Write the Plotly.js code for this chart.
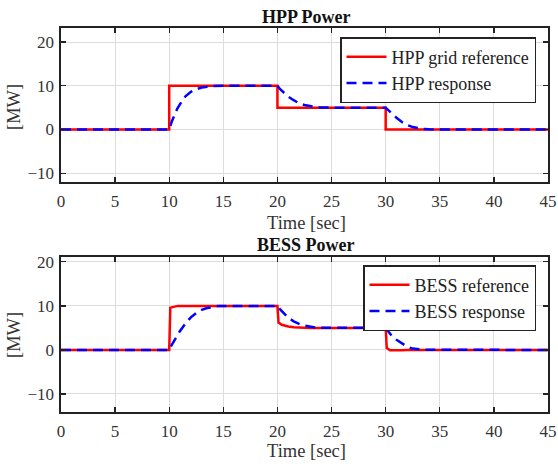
<!DOCTYPE html>
<html><head><meta charset="utf-8">
<script src="https://cdn.plot.ly/plotly-3.0.1.min.js"></script>
<style>html,body{margin:0;padding:0;background:#fff}#c{width:558px;height:464px}</style>
</head><body><div id="c"></div>
<script>
// HPP grid reference (step profile)
const hppRefT = [0, 10, 10, 20, 20, 30, 30, 45];
const hppRefP = [0, 0, 10, 10, 5, 5, 0, 0];
// HPP response
const hppRespT = [0, 10, 10.25, 10.5, 10.75, 11, 11.25, 11.5, 12, 12.5, 13, 13.5, 14, 15, 20, 20.25, 20.5, 21, 21.5, 22, 22.5, 23, 23.5, 24, 25, 30, 30.25, 30.5, 31, 31.5, 32, 32.5, 33, 33.5, 34, 45];
const hppRespP = [0, 0, 1.9, 3.5, 4.8, 5.8, 6.8, 7.6, 8.6, 9.2, 9.6, 9.8, 9.95, 10, 10, 9.2, 8.6, 7.5, 6.7, 6.0, 5.6, 5.3, 5.15, 5.05, 5, 5, 4.4, 3.7, 2.7, 1.7, 1.0, 0.55, 0.25, 0.1, 0.03, 0];
// BESS reference
const bessRefT = [0, 10, 10.1, 10.4, 10.8, 20, 20.1, 20.4, 21, 21.5, 22, 23, 30, 30.1, 30.4, 31, 31.5, 32, 45];
const bessRefP = [0, 0, 9.6, 9.8, 10, 10, 6.2, 5.7, 5.3, 5.15, 5.05, 5, 5, 0.4, -0.1, -0.15, -0.1, 0, 0];
// BESS response
const bessRespT = [0, 10, 10.25, 10.5, 10.75, 11, 11.5, 12, 12.5, 13, 13.5, 14, 14.5, 15, 20, 20.25, 20.5, 21, 21.5, 22, 22.5, 23, 23.5, 24, 25, 30, 30.25, 30.5, 31, 31.5, 32, 32.5, 33, 33.5, 45];
const bessRespP = [0, 0, 1.2, 2.3, 3.3, 4.3, 6.0, 7.4, 8.4, 9.1, 9.5, 9.8, 9.95, 10, 10, 9.2, 8.5, 7.3, 6.5, 5.9, 5.5, 5.25, 5.1, 5.03, 5, 5, 4.2, 3.4, 2.3, 1.4, 0.7, 0.3, 0.1, 0.02, 0];
const xTicks = [0, 5, 10, 15, 20, 25, 30, 35, 40, 45];
const yTicks = [-10, 0, 10, 20];

const F = "Liberation Serif";
const red = "#ff0000", blue = "#0000ff";
const traces = [
  {x: hppRefT, y: hppRefP, name: "HPP grid reference", mode: "lines", line: {color: red, width: 2.5}, xaxis: "x", yaxis: "y", legend: "legend"},
  {x: hppRespT, y: hppRespP, name: "HPP response", mode: "lines", line: {color: blue, width: 2.5, dash: "10px,6px"}, xaxis: "x", yaxis: "y", legend: "legend"},
  {x: bessRefT, y: bessRefP, name: "BESS reference", mode: "lines", line: {color: red, width: 2.5}, xaxis: "x2", yaxis: "y2", legend: "legend2"},
  {x: bessRespT, y: bessRespP, name: "BESS response", mode: "lines", line: {color: blue, width: 2.5, dash: "10px,6px"}, xaxis: "x2", yaxis: "y2", legend: "legend2"}
];
const ax = (extra) => Object.assign({
  showline: true, mirror: "ticks", linecolor: "#222", linewidth: 1.6,
  ticks: "inside", ticklen: 5, tickcolor: "#222", tickwidth: 1.3,
  showgrid: true, gridcolor: "#dcdcdc", gridwidth: 1, zeroline: false,
  tickfont: {family: F, size: 17, color: "#333"}
}, extra);
const xd = [61/558, 548/558];
const legendBase = {xanchor: "right", yanchor: "top", bgcolor: "#fff", bordercolor: "#222", borderwidth: 1.5,
  font: {family: F, size: 18, color: "#222"}, tracegroupgap: 0, itemwidth: 40};
const ann = (text, x, y, size, extra) => Object.assign({text: text, xref: "paper", yref: "paper",
  x: x/558, y: 1 - y/464, xanchor: "center", yanchor: "middle", showarrow: false,
  font: {family: F, size: size, color: "#333"}}, extra || {});
const layout = {
  width: 558, height: 464, margin: {l: 0, r: 0, t: 0, b: 0},
  paper_bgcolor: "#fff", plot_bgcolor: "#fff", showlegend: true,
  font: {family: F, color: "#222"},
  xaxis: ax({domain: xd, range: [0, 45], tickvals: xTicks, anchor: "y", ticklabelstandoff: 3}),
  yaxis: ax({domain: [1 - 182/464, 1 - 28/464], range: [-12, 23.2], tickvals: yTicks, anchor: "x", ticklabelstandoff: 2}),
  xaxis2: ax({domain: xd, range: [0, 45], tickvals: xTicks, anchor: "y2", ticklabelstandoff: 3}),
  yaxis2: ax({domain: [1 - 412/464, 1 - 257/464], range: [-14.1, 21.1], tickvals: yTicks, anchor: "x2", ticklabelstandoff: 2}),
  legend: Object.assign({x: 536/558, y: 1 - 37/464}, legendBase),
  legend2: Object.assign({x: 536/558, y: 1 - 265/464}, legendBase),
  annotations: [
    ann("<b>HPP Power</b>", 306, 17, 18, {font: {family: F, size: 18, color: "#111"}}),
    ann("<b>BESS Power</b>", 306, 245, 18, {font: {family: F, size: 18, color: "#111"}}),
    ann("Time [sec]", 306, 223, 18.5),
    ann("Time [sec]", 306, 451, 18.5),
    ann("[MW]", 14, 107, 18.5, {textangle: -90}),
    ann("[MW]", 14, 335, 18.5, {textangle: -90})
  ]
};
Plotly.newPlot("c", traces, layout, {displayModeBar: false, staticPlot: true});
</script></body></html>
